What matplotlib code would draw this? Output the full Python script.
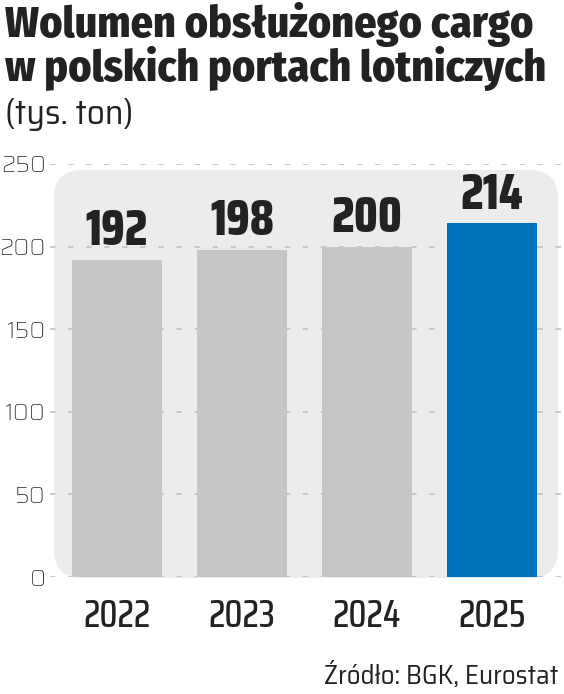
import matplotlib.pyplot as plt
from matplotlib.patches import FancyBboxPatch

years = ['2022', '2023', '2024', '2025']
cargo = [192, 198, 200, 214]
bar_colors = ['#c6c6c6', '#c6c6c6', '#c6c6c6', '#0072bb']
yticks = [0, 50, 100, 150, 200, 250]

cond = ['Saira Condensed', 'DejaVu Sans']
semi = ['Saira SemiCondensed', 'DejaVu Sans']
head = ['Fira Sans Condensed', 'DejaVu Sans']
plain = ['Saira', 'DejaVu Sans']
ink = '#222222'

fig = plt.figure(figsize=(5.64, 6.94), dpi=100)
ax = fig.add_axes([50 / 564, 117 / 694, 512 / 564, 413 / 694])

# rounded grey panel behind bars
aw, ah = 512, 413
panel = FancyBboxPatch((4 / aw, -1 / ah), (504 / aw), (408 / ah),
                       boxstyle='round,pad=0,rounding_size=0.055',
                       mutation_aspect=aw / ah,
                       transform=ax.transAxes, facecolor='#ececec',
                       edgecolor='none', zorder=0, clip_on=False)
ax.add_patch(panel)

x = range(len(years))
ax.bar(x, cargo, width=0.72, color=bar_colors, zorder=2)

for xi, v in zip(x, cargo):
    ax.text(xi, v + 3, str(v), ha='center', va='bottom', fontsize=36,
            fontweight='heavy', family=cond, color=ink)

ax.set_xlim(-0.536, 3.56)
ax.set_ylim(0, 250)
ax.set_yticks(yticks)
ax.set_yticklabels([str(t) for t in yticks], fontsize=17, family=plain,
                   fontweight='medium', color=ink)
ax.set_xticks(list(x))
ax.set_xticklabels(years, fontsize=27, family=cond, fontweight='medium',
                   color=ink)
ax.tick_params(axis='both', length=0)
ax.tick_params(axis='y', pad=3)
ax.tick_params(axis='x', pad=15)
for s in ax.spines.values():
    s.set_visible(False)
ax.set_facecolor('none')
ax.grid(axis='y', color='#c4c4c4', linestyle=(0, (3, 7)), linewidth=1.3,
        zorder=1)
ax.set_axisbelow(True)

fig.text(0.008, 1 - 37 / 694, 'Wolumen obsłużonego cargo', fontsize=31.5,
         fontweight='heavy', family=head, color=ink, va='baseline')
fig.text(0.008, 1 - 81 / 694, 'w polskich portach lotniczych', fontsize=31.5,
         fontweight='heavy', family=head, color=ink, va='baseline')
fig.text(0.008, 1 - 124 / 694, '(tys. ton)', fontsize=25.5,
         fontweight='normal', family=semi, color=ink, va='baseline')
fig.text(558 / 564, 1 - 684 / 694, 'Źródło: BGK, Eurostat', fontsize=19.5,
         fontweight='normal', family=semi, color=ink, ha='right',
         va='baseline')

fig.savefig('out.png', dpi=100)
